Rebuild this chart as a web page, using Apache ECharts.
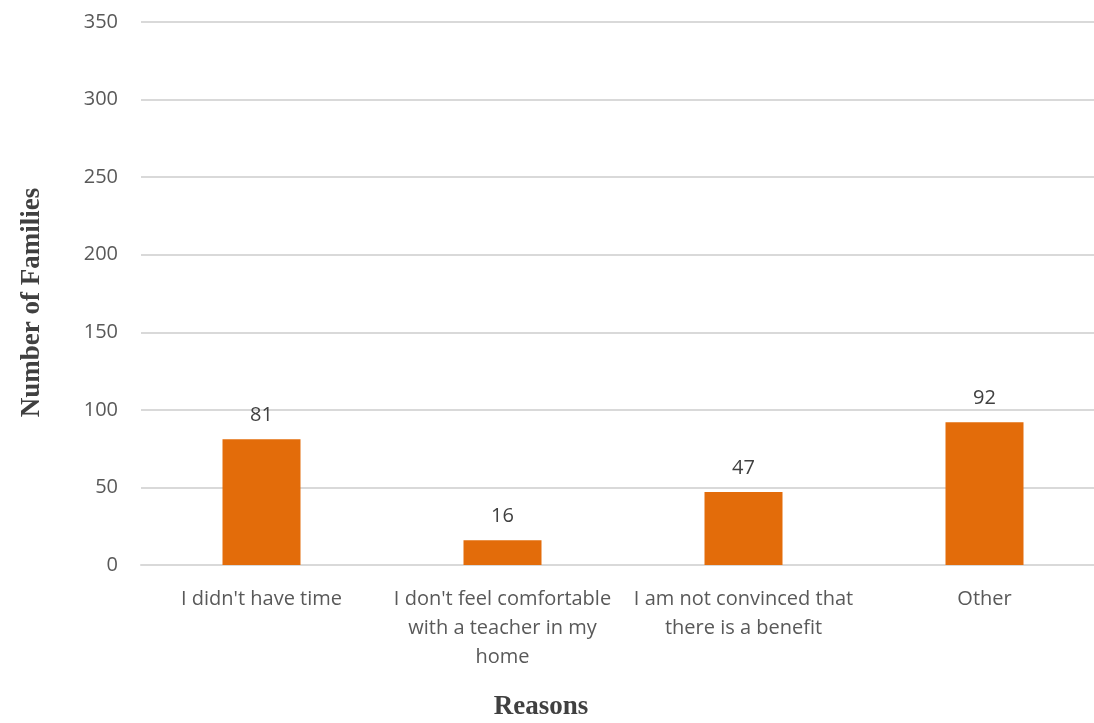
<!DOCTYPE html>
<html>
<head>
<meta charset="utf-8">
<script src="https://cdn.jsdelivr.net/npm/echarts@6/dist/echarts.min.js"></script>
<style>
html, body { margin: 0; padding: 0; background: #fff; }
#reasons { width: 1094px; height: 723px; }
</style>
</head>
<body>
<div id="reasons"></div>
<script>
var categories = [
    "I didn't have time",
    "I don't feel comfortable\nwith a teacher in my\nhome",
    "I am not convinced that\nthere is a benefit",
    "Other"
];
var families = [81, 16, 47, 92];
var yMax = 350;
var yStep = 50;

var option = {
    animation: false,
    // x axis title sits left of the plot centre in the original, so use a title box
    title: {
        text: 'Reasons',
        left: 541,
        top: 694,
        textAlign: 'center',
        padding: 0,
        textStyle: {
            fontFamily: 'Liberation Serif',
            fontWeight: 'bold',
            fontSize: 27,
            color: '#404040'
        }
    },
    grid: {
        left: 141,
        width: 964,   // plot runs past the right edge of the picture
        top: 22,
        bottom: 158,
        outerBoundsMode: 'none'
    },
    xAxis: [{
        type: 'category',
        data: categories,
        axisLine: { show: true, lineStyle: { color: '#d9d9d9', width: 2 } },
        axisTick: { show: false },
        axisLabel: {
            interval: 0,
            margin: 20,
            lineHeight: 29,
            fontFamily: 'Open Sans',
            fontSize: 20,
            color: '#595959'
        }
    }],
    yAxis: [{
        type: 'value',
        min: 0,
        max: yMax,
        interval: yStep,
        name: 'Number of Families',
        nameLocation: 'middle',
        nameGap: 95,
        nameTextStyle: {
            fontFamily: 'Liberation Serif',
            fontWeight: 'bold',
            fontSize: 27,
            color: '#404040',
            padding: [0, 18, 0, 0]
        },
        axisLine: { show: false },
        axisTick: { show: false },
        axisLabel: {
            margin: 23,
            fontFamily: 'Open Sans',
            fontSize: 20,
            color: '#595959'
        },
        splitLine: { lineStyle: { color: '#d9d9d9', width: 2 } }
    }],
    series: [{
        type: 'bar',
        data: families,
        barWidth: 78,
        itemStyle: { color: '#e36c0a' },
        label: {
            show: true,
            position: 'top',
            distance: 14,
            fontFamily: 'Open Sans',
            fontSize: 20,
            color: '#404040'
        }
    }]
};
var chart = echarts.init(document.getElementById('reasons'));
chart.setOption(option);
</script>
</body>
</html>
